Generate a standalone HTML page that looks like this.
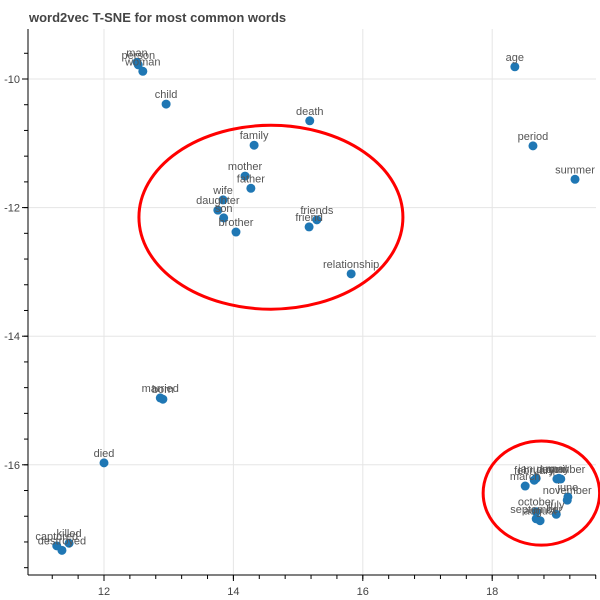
<!DOCTYPE html>
<html><head><meta charset="utf-8"><style>
body{margin:0;background:#fff;}
svg{display:block;font-family:"Liberation Sans",Arial,sans-serif;}
</style></head><body>
<svg id="chart" width="600" height="600">
<text x="29" y="22" font-size="13" font-weight="bold" fill="#444">word2vec T-SNE for most common words</text>
<g id="grid"></g>
<g id="axes"></g>
<g id="ellipses"></g>
<g id="points"></g>
<g id="labels"></g>
</svg>
<script>
const words=["man","person","woman","child","family","death","mother","father","wife","daughter","son","brother","friend","friends","relationship","age","period","summer","married","born","died","captured","killed","destroyed","march","february","january","april","december","may","june","november","october","september","august","july"];
const xs=[12.51,12.53,12.60,12.96,14.32,15.18,14.18,14.27,13.84,13.76,13.85,14.04,15.17,15.29,15.82,18.35,18.63,19.28,12.87,12.91,12.00,11.27,11.46,11.35,18.51,18.65,18.68,19.00,19.06,19.03,19.17,19.16,18.68,18.68,18.74,18.99];
const ys=[-9.74,-9.78,-9.88,-10.39,-11.03,-10.65,-11.51,-11.70,-11.88,-12.04,-12.16,-12.38,-12.30,-12.19,-13.03,-9.81,-11.04,-11.56,-14.96,-14.98,-15.97,-17.26,-17.22,-17.33,-16.33,-16.24,-16.21,-16.22,-16.22,-16.21,-16.50,-16.55,-16.73,-16.84,-16.87,-16.77];
const xTicks=[12,14,16,18];
const yTicks=[-10,-12,-14,-16];
const ellipseCx=[14.58,18.76];
const ellipseCy=[-12.15,-16.44];
const ellipseRx=[2.04,0.90];
const ellipseRy=[1.43,0.81];

const L=28,R=596,T=29,B=575;
const X=v=>104+(v-12)*64.7;
const Y=v=>79-(v+10)*64.3;
const NS="http://www.w3.org/2000/svg";
function mk(tag,parent,attrs){const e=document.createElementNS(NS,tag);for(const k in attrs)e.setAttribute(k,attrs[k]);document.getElementById(parent).appendChild(e);return e;}

xTicks.forEach(t=>{
  const g=mk("line","grid",{x1:X(t),x2:X(t),y1:T,y2:B,stroke:"#e5e5e5"});
  
  
  const tk=mk("line","axes",{x1:X(t),x2:X(t),y1:B,y2:B+6,stroke:"#000"});
  
  
  const lb=mk("text","axes",{x:X(t),y:B+20,"font-size":11,"text-anchor":"middle",fill:"#444"});
  lb.textContent=t;
  
  
});
yTicks.forEach(t=>{
  const g=mk("line","grid",{x1:L,x2:R,y1:Y(t),y2:Y(t),stroke:"#e5e5e5"});
  
  
  const tk=mk("line","axes",{x1:L-6,x2:L,y1:Y(t),y2:Y(t),stroke:"#000"});
  
  
  const lb=mk("text","axes",{x:L-8,y:Y(t)+4,"font-size":11,"text-anchor":"end",fill:"#444"});
  lb.textContent=t;
  
  
});
for(let v=11.2;v<19.6;v+=0.4){const x=X(v);if(x<L||x>R)continue;
  const m=mk("line","axes",{x1:x,x2:x,y1:B,y2:B+4,stroke:"#000"});
  
  }
for(let v=-9.2;v>-17.8;v-=0.4){const y=Y(v);if(y<T||y>B)continue;
  const m=mk("line","axes",{x1:L-4,x2:L,y1:y,y2:y,stroke:"#000"});
  
  }
const ax1=mk("line","axes",{x1:L,x2:L,y1:T,y2:B,stroke:"#000"});


const ax2=mk("line","axes",{x1:L,x2:R,y1:B,y2:B,stroke:"#000"});



ellipseCx.forEach((c,i)=>{
  const e=mk("ellipse","ellipses",{cx:X(c),cy:Y(ellipseCy[i]),rx:ellipseRx[i]*64.7,ry:ellipseRy[i]*64.3,fill:"none",stroke:"#f00","stroke-width":3});
  
  
});
words.forEach((w,i)=>{
  const p=mk("circle","points",{cx:X(xs[i]),cy:Y(ys[i]),r:4.5,fill:"#1f77b4"});
  
  
  const t=mk("text","labels",{x:X(xs[i]),y:Y(ys[i])-6,"font-size":11,"text-anchor":"middle",fill:"#555"});
  t.textContent=w;
  
  
});
</script>
</body></html>
